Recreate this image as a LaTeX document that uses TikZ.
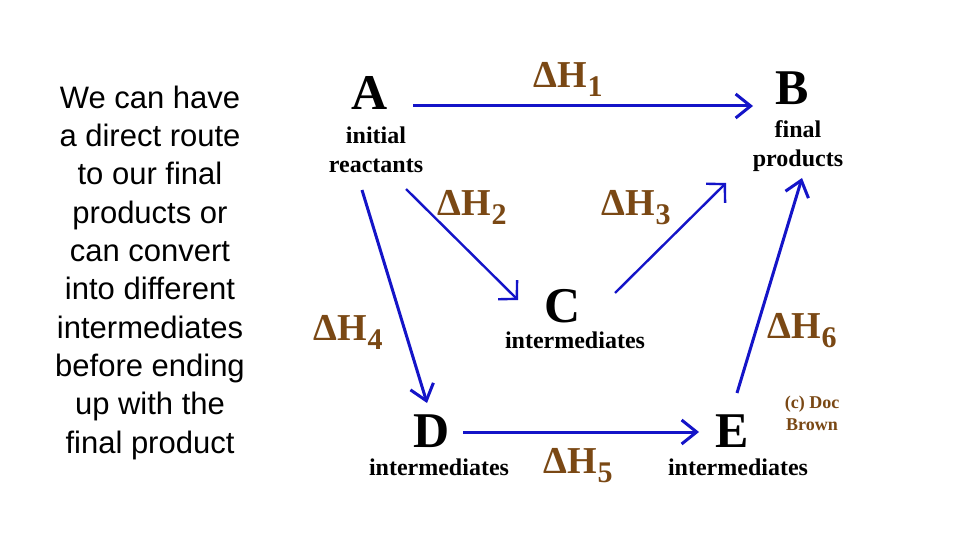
\documentclass[tikz,border=0pt]{standalone}
\usepackage{fontspec}
\setmainfont{Liberation Serif}
\newfontfamily\arialf{Liberation Sans}
\usetikzlibrary{arrows.meta}
\definecolor{arrowblue}{RGB}{20,20,200}
\definecolor{dhbrown}{RGB}{122,72,20}
\newcommand{\dHlabel}[1]{{\fontsize{38}{38}\selectfont\bfseries ΔH\kern1pt\raisebox{-9pt}{\fontsize{30}{30}\selectfont #1}}}
\begin{document}
\begin{tikzpicture}[x=1pt,y=-1pt,
  letter/.style={font=\fontsize{50}{50}\selectfont\bfseries, anchor=base, inner sep=0pt},
  capline/.style={font=\fontsize{24}{29}\selectfont\bfseries, inner sep=0pt, align=center},
  dh/.style={text=dhbrown, anchor=base west, inner sep=0pt},
  arr/.style={draw=arrowblue, line width=3pt, -{Straight Barb[length=15pt,width=24pt]}},
  thinarr/.style={arr, line width=2.4pt},
  bodytext/.style={font=\arialf\fontsize{31}{38.33}\selectfont, align=center, inner sep=0pt, anchor=north},
]
\fill[white] (0,0) rectangle (960,540);
\useasboundingbox (0,0) rectangle (960,540);

% left text
\node[bodytext] (txt) at (150,85.5) {We can have\\a direct route\\to our final\\products or\\can convert\\into different\\intermediates\\before ending\\up with the\\final product};

% letters
\node[letter] (A) at (370,110) {A};
\node[letter] (B) at (792,105) {B};
\node[letter] (C) at (563,322) {C};
\node[letter] (D) at (432,447) {D};
\node[letter] (E) at (732,447) {E};

% captions
\node[capline, anchor=north] (capA) at (376,126.5) {initial\\reactants};
\node[capline, anchor=north] (capB) at (798,120.5) {final\\products};
\node[capline, anchor=base] (capC) at (575,348) {intermediates};
\node[capline, anchor=base] (capD) at (439,475) {intermediates};
\node[capline, anchor=base] (capE) at (738,475) {intermediates};

% enthalpy labels
\node[dh] (h1) at (533,88) {\dHlabel{1}};
\node[dh] (h2) at (437,215) {\dHlabel{2}};
\node[dh] (h3) at (601,215) {\dHlabel{3}};
\node[dh] (h4) at (313,340) {\dHlabel{4}};
\node[dh] (h5) at (543,473) {\dHlabel{5}};
\node[dh] (h6) at (767,338) {\dHlabel{6}};

% copyright
\node[text=dhbrown, font=\fontsize{18}{22}\selectfont\bfseries, align=center, inner sep=0pt, anchor=north] (copy) at (812,395.6) {(c) Doc\\Brown};

% arrows
\draw[arr] ([shift={(43,-4)}]A.base) -- ([shift={(-39,1)}]B.base);
\draw[thinarr, -{Straight Barb[length=13pt,width=27pt]}] ([shift={(36,79)}]A.base) -- ([shift={(-45,-22)}]C.base);
\draw[thinarr, -{Straight Barb[length=13pt,width=27pt]}] ([shift={(52,-29)}]C.base) -- ([shift={(-66,78)}]B.base);
\draw[arr] ([shift={(-8,80)}]A.base) -- ([shift={(-5,-44)}]D.base);
\draw[arr] ([shift={(5,-54)}]E.base) -- ([shift={(10,73)}]B.base);
\draw[arr] ([shift={(31,-15)}]D.base) -- ([shift={(-33,-15)}]E.base);
\end{tikzpicture}
\end{document}
